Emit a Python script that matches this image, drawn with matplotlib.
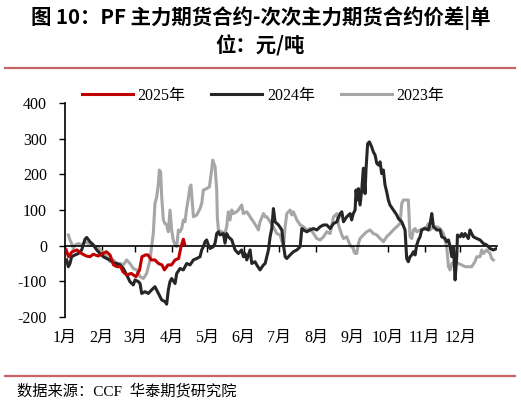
import matplotlib
matplotlib.use('Agg')
import matplotlib.pyplot as plt
from matplotlib.lines import Line2D
from matplotlib.transforms import blended_transform_factory

plt.rcParams['font.family'] = ['Liberation Serif', 'Noto Sans CJK SC']
plt.rcParams['axes.unicode_minus'] = False

# day of year / spread (yuan/ton)
days_2025 = [1, 3, 6, 10, 14, 18, 21, 24, 28, 32, 35, 38, 41, 44, 47, 49, 52, 56, 60,
             63, 65, 68, 70, 73, 76, 79, 82, 84, 87, 90, 93, 96, 98, 100, 101]
vals_2025 = [-12, -31, -17, -12, -22, -29, -31, -24, -29, -22, -17, -26, -54, -59, -59,
             -73, -82, -78, -87, -68, -31, -26, -26, -40, -40, -50, -54, -68, -54, -54,
             -40, -36, -3, 18, 5]

days_2024 = [1.4, 2.8, 4.2, 5.6, 8.5, 11.3, 14.1, 16.9, 18.3, 21.1, 24, 26.8, 29.6, 32.4,
             35.2, 38, 40.8, 43.7, 46.5, 49.3, 52.1, 54.9, 57.7, 59.2, 62, 63.4, 64.8,
             67.6, 70.4, 73.2, 76, 78.9, 81.7, 84.5, 85.9, 87.3, 88.7, 90.1, 93, 94.4,
             97.2, 100, 102.8, 105.6, 108.5, 111.3,
             114.1, 115.5, 116.9, 118.3, 119.7, 121.1, 122.5, 125.3, 126.8, 128.2, 129.6,
             131, 133.8, 135.2, 136.6, 138, 140.9, 143.7, 146.5, 149.3, 150.7, 152.1,
             153.6, 156.4, 157.8, 160.6, 162, 164.8, 167.7, 169.1, 171.9, 173.3, 174.7,
             176.1, 177.5, 180.4, 183.2, 184.6, 186, 187.4, 190.2, 193, 195.9, 198.7,
             200.1, 201.5, 204.3, 207.1, 209.9, 212.8, 215.6, 218.4, 221.2, 224, 226.9,
             229.7, 232.5, 233.9, 235.3, 238.1, 240.9,
             242.2, 243.6, 245.1, 245.9, 247, 247.9, 249.3, 250.7, 252.1, 253.5, 254.3,
             255.7, 257.2, 259.1, 260.5, 262, 263.4, 264.8, 266.2, 267.6, 269, 270.4,
             271.8, 273.2, 274.6, 277.4, 280.3, 281.7, 284.5, 287.3, 288.7, 290.1, 291.5,
             293, 294.4, 295.8, 297.2, 298.6, 300, 301.4, 304.2, 307, 308.5, 309.9,
             311.3, 314.1, 316.9, 318.3, 321.1, 322.5, 324, 325.4, 326.8, 328.2, 329.6,
             331, 331.6, 333.8, 335.2, 336.6, 338, 340.8, 342.2, 343.6, 345, 347.9,
             350.7, 353.5, 356.3, 359.1, 361.9, 364.7]
vals_2024 = [-40, -59, -50, -31, -26, -22, -12, 18, 23, 11, 2, -12, -22, -31,
             -36, -40, -48, -50, -54, -64, -82, -101, -110, -96, -101, -106, -134,
             -129, -134, -124, -115, -134, -152, -157, -164, -124, -101, -92, -106, -78,
             -64, -68, -50, -54, -40, -36,
             -31, -12, -3, 11, 16, 2, -8, -3, 7, 34, 39,
             30, 34, 7, 34, 25, 16, -12, -22, -12, -31, -22,
             -40, -12, -50, -45, -54, -68, -54, -50, -12, 25, 48,
             104, 67, 58, 44, 2, -31, -36, -26, -17, -12, -3,
             48, 44, 39, 44, 48, 44, 53, 58, 58, 48, 62,
             67, 90, 95, 67, 81, 90,
             72, 90, 100, 156, 128, 160, 114, 156, 217, 146, 212,
             286, 291, 277, 263, 254, 231, 226, 235, 202, 212, 170,
             151, 128, 114, 100, 86, 76, 67, 44, -36, -45, -31,
             -26, -17, -26, 2, 16, 25, 44, 48, 44, 62, 90,
             53, 44, 44, 25, 20, 11, 16, -3, -31, -3, -96,
             -31, 30, 25, 34, 25, 34, 20, 44, 34, 25, 20,
             16, 6, 2, -8, -12, -8]

days_2023 = [2.8, 4.2, 5.6, 7.0, 8.5, 11.3, 14.1, 16.9, 19.7, 22.5, 25.4, 28.2, 29.6, 32.4,
             35.2, 38, 40.8, 43.7, 46.5, 49.3, 52.1, 54.9, 57.7, 60.6, 62, 63.4, 66.2,
             69, 71.8, 73.2, 74.6, 76, 77.5, 78.9, 79.7, 80.8, 81.7, 83.1, 84.5, 85.9,
             87.3, 88.7, 90.1, 91.5, 93, 94.4, 95.8, 97.2, 98.6, 100, 101.4, 102.8,
             104.2, 105.6, 106.4, 108.5, 111.3,
             114.1, 115.5, 116.9, 119.7, 122, 123.9, 124.8, 126.8, 128.2, 128.7, 129.6,
             132.4, 135.2, 136.6, 138, 139.4, 140.9, 142.3, 145.1, 146.5, 149.3, 150.7,
             153.6, 156.4, 159.2, 162, 163.4, 164.8, 167.7, 169.1, 170.5, 173.3, 176.1,
             178.9, 181.7, 184.6, 186, 187.4, 190.2, 191.6, 193, 195.9, 198.7, 201.5,
             204.3, 207.1, 209.9, 212.8, 215.6, 218.4, 221.2, 224, 226.9, 229.7, 231.1,
             233.9, 235.3,
             238, 240.8, 243.6, 245.1, 246.5, 247.9, 249.3, 252.1, 254.9, 257.7, 260.5,
             263.4, 266.2, 267.6, 269, 271.8, 274.6, 277.4, 280.3, 283.1, 284.5, 285.9,
             288.7, 290.1, 291.5, 293, 294.4, 295.8, 297.2, 300, 302.8, 305.6, 307,
             308.5, 311.3, 314.1, 316.9, 319.7, 322.5, 324, 325.4, 326.8, 329.6, 332.4,
             335.2, 338, 340.8, 343.6, 346.4, 347.9, 350.7, 352.1, 353.5, 356.3, 359.1,
             360.5, 361.9]
vals_2023 = [30, 16, 6, -8, 2, 6, 2, 11, 6, 2, -3, -3, -12, -22,
             -31, -45, -40, -50, -50, -54, -40, -50, -64, -68, -78, -87, -92,
             -78, -40, -3, 34, 118, 137, 174, 212, 207, 137, 72, 62, 58,
             39, 100, 44, 16, 2, -3, 44, 39, 48, 72, 67, 104,
             132, 165, 170, 81, 86,
             104, 118, 156, 160, 165, 212, 240, 221, 156, 81, 44,
             39, 34, 53, 95, 72, 100, 90, 95, 100, 114, 90,
             95, 81, 67, 53, 44, 67, 90, 81, 81, 67, 53,
             34, 30, -3, 53, 90, 100, 86, 95, 72, 58, 53,
             44, 48, 34, 20, 16, 25, 39, 34, 81, 90, 58,
             30, 20,
             25, 2, -8, -22, -22, 6, 20, 30, 39, 44, 34,
             30, 20, 16, 11, 25, 34, 44, 53, 62, 118, 128,
             128, 128, 25, 20, 44, 48, 39, 44, 48, 53, 62,
             44, 53, 53, 48, 34, -3, -59, -68, -50, -45, -50,
             -54, -59, -59, -59, -45, -31, -31, -12, -22, -12, -22,
             -36, -40]

month_starts = [0, 31, 59, 90, 120, 151, 181, 212, 243, 273, 304, 334]
month_labels = ['1月', '2月', '3月', '4月', '5月', '6月', '7月', '8月', '9月', '10月', '11月', '12月']

fig = plt.figure(figsize=(5.21, 4.05), dpi=100)
ax = fig.add_axes([65 / 521, 1 - 317 / 405, 432 / 521, 214 / 405])

ax.plot(days_2023, vals_2023, color='#a6a6a6', lw=2.2, label='2023年', zorder=2)
ax.plot(days_2024, vals_2024, color='#262626', lw=2.2, label='2024年', zorder=3)
ax.plot(days_2025, vals_2025, color='#c00000', lw=2.2, label='2025年', zorder=4)

ax.set_xlim(0, 365)
ax.set_ylim(-200, 400)
ax.set_yticks(range(-200, 401, 100))
ax.spines['top'].set_visible(False)
ax.spines['right'].set_visible(False)
ax.spines['bottom'].set_position(('data', 0))
ax.spines['left'].set_linewidth(1.2)
ax.spines['bottom'].set_linewidth(1.2)
ax.set_xticks(month_starts)
ax.tick_params(axis='x', direction='out', length=4, width=1, labelbottom=False)
ax.tick_params(axis='y', direction='out', length=4, width=1, labelsize=11.5, pad=9)

trans = blended_transform_factory(ax.transData, ax.transAxes)
for d, lab in zip(month_starts, month_labels):
    ax.text(d, -0.1, lab, transform=trans, ha='center', va='center', fontsize=11.5)

handles, labels = ax.get_legend_handles_labels()
order = [2, 1, 0]
fig.legend([handles[i] for i in order], [labels[i] for i in order],
           loc='center', bbox_to_anchor=(0.505, 1 - 96 / 405), ncol=3, frameon=False,
           fontsize=11.5, handlelength=3.2, handletextpad=0.3, columnspacing=1.6)

title_font = dict(family=['Noto Sans CJK SC'], weight='bold', fontsize=14.7)
fig.text(0.5, 1 - 18 / 405, '图 10：PF 主力期货合约-次次主力期货合约价差|单',
         ha='center', va='center', **title_font)
fig.text(0.5, 1 - 46 / 405, '位：元/吨', ha='center', va='center', **title_font)

for yy in (67.5, 375.5):
    fig.add_artist(Line2D([5 / 521, 515 / 521], [1 - yy / 405] * 2,
                          color='#c86464', lw=1.6))

fig.text(17 / 521, 1 - 391 / 405, '数据来源：CCF  华泰期货研究院', ha='left', va='center',
         fontsize=11)

fig.savefig('out.png', dpi=100)
